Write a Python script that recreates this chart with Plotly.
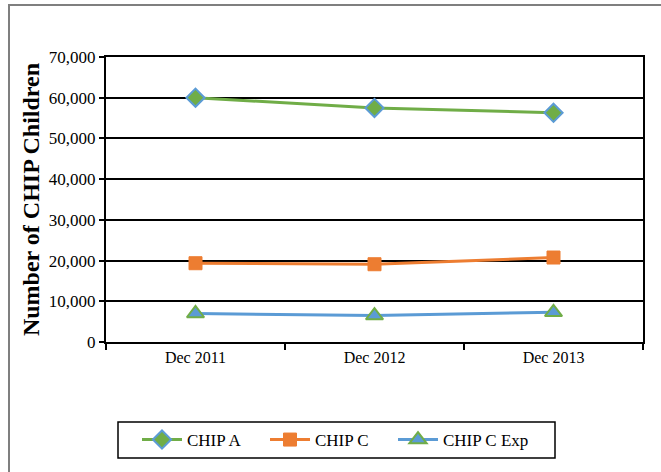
import plotly.graph_objects as go

# Enrollment counts by month
months = ["Dec 2011", "Dec 2012", "Dec 2013"]
chip_a = [60000, 57500, 56300]
chip_c = [19350, 19100, 20750]
chip_c_exp = [7000, 6500, 7300]

y_ticks = [0, 10000, 20000, 30000, 40000, 50000, 60000, 70000]

GREEN = "#70AD47"
ORANGE = "#ED7D31"
BLUE = "#5B9BD5"
FONT = "Liberation Serif"

W, H = 661, 472
L, R, T, B = 106, 18, 57, 130
PW, PH = W - L - R, H - T - B


def px_x(x):
    return (x - L) / PW


def px_y(y):
    return (H - B - y) / PH


fig = go.Figure()
fig.add_trace(go.Scatter(
    x=months, y=chip_a, name="CHIP A", mode="lines+markers", legend="legend",
    line=dict(color=GREEN, width=3),
    marker=dict(symbol="diamond", size=14, color=GREEN, line=dict(color=BLUE, width=2)),
))
fig.add_trace(go.Scatter(
    x=months, y=chip_c, name="CHIP C", mode="lines+markers", legend="legend2",
    line=dict(color=ORANGE, width=3),
    marker=dict(symbol="square", size=13, color=ORANGE, line=dict(color=ORANGE, width=1)),
))
fig.add_trace(go.Scatter(
    x=months, y=chip_c_exp, name="CHIP C Exp", mode="lines+markers", legend="legend3",
    line=dict(color=BLUE, width=3),
    marker=dict(symbol="triangle-up", size=15, color=BLUE, line=dict(color=GREEN, width=2)),
))

# outer frame around the whole chart
fig.add_shape(
    type="rect", xref="paper", yref="paper",
    x0=px_x(9), x1=px_x(680), y0=px_y(490), y1=px_y(5),
    line=dict(color="#7f7f7f", width=2), fillcolor="rgba(0,0,0,0)", layer="below",
)
# legend frame
fig.add_shape(
    type="rect", xref="paper", yref="paper",
    x0=px_x(118), x1=px_x(555), y0=px_y(458), y1=px_y(422),
    line=dict(color="black", width=1.5), fillcolor="rgba(0,0,0,0)",
)


def legend_at(xpx):
    return dict(
        orientation="h", x=px_x(xpx), xanchor="left", y=px_y(440), yanchor="middle",
        bgcolor="rgba(0,0,0,0)", borderwidth=0, font=dict(size=17, family=FONT),
        itemwidth=40,
    )


fig.update_layout(
    width=W, height=H,
    margin=dict(l=L, r=R, t=T, b=B),
    paper_bgcolor="white", plot_bgcolor="white",
    font=dict(family=FONT, color="black"),
    showlegend=True,
    legend=legend_at(137),
    legend2=legend_at(265),
    legend3=legend_at(393),
    xaxis=dict(
        type="category", range=[-0.5, 2.5],
        showline=True, linecolor="black", linewidth=2, mirror=True,
        ticks="outside", tickson="boundaries", ticklen=6, tickcolor="black", tickwidth=1.5,
        showgrid=False, tickfont=dict(size=16, family=FONT),
    ),
    yaxis=dict(
        range=[0, 70000], tickvals=y_ticks, tickformat=",",
        showline=True, linecolor="black", linewidth=2, mirror=True,
        ticks="outside", ticklen=5, tickcolor="black", tickwidth=1.5,
        showgrid=True, gridcolor="black", gridwidth=1.5, zeroline=False,
        tickfont=dict(size=17, family=FONT),
        title=dict(text="<b>Number of CHIP Children</b>", font=dict(size=24, family=FONT), standoff=2),
    ),
)

fig.write_html("out.html")
